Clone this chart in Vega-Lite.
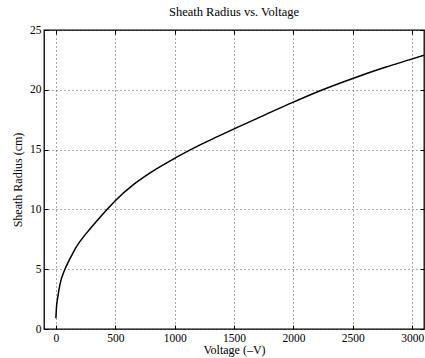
{
  "$schema": "https://vega.github.io/schema/vega-lite/v6.json",
  "width": 380,
  "height": 299,
  "autosize": {"type": "none"},
  "padding": {"left": 44, "top": 30, "right": 1, "bottom": 29},
  "background": "white",
  "title": {
    "text": "Sheath Radius vs. Voltage",
    "font": "Liberation Serif",
    "fontSize": 12.5,
    "fontWeight": "normal",
    "color": "black",
    "offset": 6
  },
  "config": {
    "view": {"stroke": "black", "strokeWidth": 1.3},
    "axis": {
      "labelFont": "Liberation Serif",
      "labelFontSize": 11.5,
      "labelColor": "black",
      "titleFont": "Liberation Serif",
      "titleFontSize": 12,
      "titleFontWeight": "normal",
      "titleColor": "black",
      "domain": false,
      "tickColor": "black",
      "tickSize": -4,
      "grid": true,
      "gridColor": "black",
      "gridDash": [1, 3],
      "gridWidth": 0.8,
      "gridOpacity": 0.85
    }
  },
  "data": {
    "values": [
      {"voltage": 0, "radius": 0.9},
      {"voltage": 5, "radius": 1.8},
      {"voltage": 15, "radius": 2.6},
      {"voltage": 35, "radius": 3.75},
      {"voltage": 72, "radius": 4.9},
      {"voltage": 120, "radius": 5.9},
      {"voltage": 165, "radius": 6.75},
      {"voltage": 265, "radius": 8.1},
      {"voltage": 350, "radius": 9.1},
      {"voltage": 425, "radius": 9.93},
      {"voltage": 500, "radius": 10.73},
      {"voltage": 650, "radius": 12.05},
      {"voltage": 800, "radius": 13.1},
      {"voltage": 1010, "radius": 14.33},
      {"voltage": 1185, "radius": 15.25},
      {"voltage": 1365, "radius": 16.1},
      {"voltage": 1505, "radius": 16.75},
      {"voltage": 1770, "radius": 17.95},
      {"voltage": 1995, "radius": 18.95},
      {"voltage": 2220, "radius": 19.9},
      {"voltage": 2500, "radius": 20.95},
      {"voltage": 2780, "radius": 21.9},
      {"voltage": 2975, "radius": 22.5},
      {"voltage": 3100, "radius": 22.9}
    ]
  },
  "layer": [
    {
      "mark": {"type": "line", "color": "black", "strokeWidth": 1.5, "interpolate": "monotone", "clip": true},
      "encoding": {
        "x": {
          "field": "voltage",
          "type": "quantitative",
          "scale": {"domain": [-100, 3100], "nice": false, "zero": false},
          "axis": {"values": [0, 500, 1000, 1500, 2000, 2500, 3000], "format": "d", "title": "Voltage (–V)", "labelPadding": 7, "titlePadding": 1, "labelFlush": false}
        },
        "y": {
          "field": "radius",
          "type": "quantitative",
          "scale": {"domain": [0, 25], "nice": false},
          "axis": {"values": [0, 5, 10, 15, 20, 25], "title": "Sheath Radius (cm)", "labelPadding": 7, "titlePadding": 5, "labelFlush": false}
        }
      }
    },
    {
      "mark": {"type": "line", "opacity": 0},
      "encoding": {
        "x": {
          "field": "voltage",
          "type": "quantitative",
          "axis": {"orient": "top", "values": [0, 500, 1000, 1500, 2000, 2500, 3000], "labels": false, "title": null, "grid": false}
        },
        "y": {
          "field": "radius",
          "type": "quantitative",
          "axis": {"orient": "right", "values": [0, 5, 10, 15, 20, 25], "labels": false, "title": null, "grid": false}
        }
      }
    }
  ],
  "resolve": {"axis": {"x": "independent", "y": "independent"}}
}
